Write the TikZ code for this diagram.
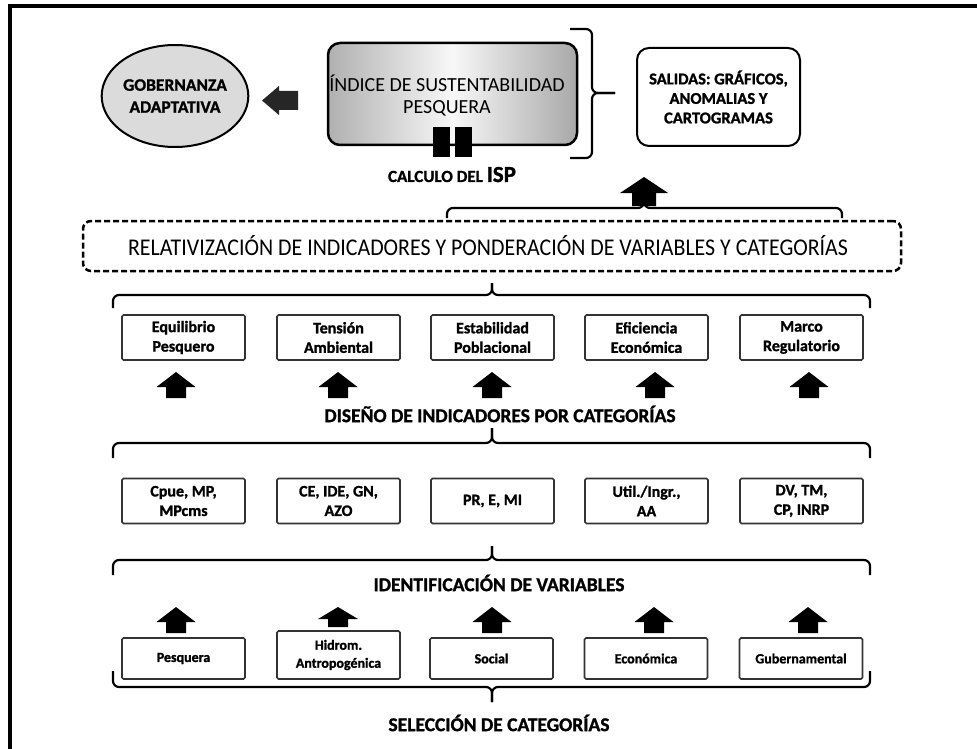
\documentclass[tikz,border=0pt]{standalone}
\usepackage{fontspec}
\setmainfont{Carlito}[BoldFeatures={FakeBold=1.3}]
\usetikzlibrary{shapes.geometric}
\newcommand\myhbrace[6]{%
  \draw[brc] (#1,#5) -- (#1,#4) -- (#3,#4) -- (#3,#6);
  \draw[brc] (#2,#5) -- (#2,#4) -- (#3,#4) -- (#3,#6);}
\tikzset{pics/uparr/.style args={#1/#2/#3/#4}{code={
  \fill[black] (-#1/2,0) -- (0,-#2) -- (#1/2,0) -- (#3/2,0) -- (#3/2,#4) -- (-#3/2,#4) -- (-#3/2,0) -- cycle;}}}
\begin{document}
\begin{tikzpicture}[x=1pt,y=-1pt,
  catbox/.style={draw=black!80, line width=1.6pt, fill=white, rounded corners=1.5pt,
    minimum width=123pt, minimum height=45pt, inner sep=0pt, align=center,
    font=\fontsize{16}{19.5}\selectfont\bfseries},
  selbox/.style={catbox, minimum height=41pt, font=\fontsize{14}{18}\selectfont\bfseries},
  brc/.style={line width=2.2pt, rounded corners=6pt},
  heading/.style={font=\fontsize{19.5}{22}\selectfont\bfseries, inner sep=0pt},
]
\useasboundingbox (0,0) rectangle (977,749);
\fill[white] (0,0) rectangle (977,749);
\draw[line width=4pt] (10,749) -- (10,6) -- (977,6);

% top row
\node[ellipse, draw, line width=2pt, fill=gray!28, minimum width=144pt, minimum height=102pt,
  inner sep=0pt, align=center, font=\fontsize{17.5}{22}\selectfont\bfseries] (gob) at (175,96)
  {GOBERNANZA\\ADAPTATIVA};
\fill[black!85] (262,100.5) -- (279,86) -- (279,91) -- (298,91) -- (298,110) -- (279,110) -- (279,115) -- cycle;

\node[draw, line width=2.5pt, rounded corners=12pt, minimum width=249pt, minimum height=102pt,
  left color=gray!62, right color=gray!68, middle color=gray!6, inner sep=0pt] (isp) at (452.5,94) {};
\node[align=center, font=\fontsize{20}{22}\selectfont, inner sep=0pt] (isptxt) at (447,95)
  {ÍNDICE DE SUSTENTABILIDAD\\PESQUERA};
\node[fill=black, minimum width=17pt, minimum height=30pt, inner sep=0pt] (b1) at (441.5,142) {};
\node[fill=black, minimum width=17pt, minimum height=30pt, inner sep=0pt] (b2) at (463.5,142) {};
\node[anchor=base, inner sep=0pt] (calc) at (452,182)
  {\fontsize{17}{20}\selectfont\bfseries CALCULO DEL \fontsize{23}{28}\selectfont ISP};

\draw[brc] (570,29) -- (592,29) -- (592,93) -- (615,93);
\draw[brc] (570,158) -- (592,158) -- (592,93) -- (615,93);

\node[draw, line width=2pt, rounded corners=12pt, minimum width=163pt, minimum height=98pt,
  align=center, font=\fontsize{16.5}{19.5}\selectfont\bfseries, inner sep=0pt] (sal) at (718.5,97)
  {SALIDAS: GRÁFICOS,\\ANOMALIAS Y\\CARTOGRAMAS};

\pic at (644,193) {uparr=48/16/24/13};
\myhbrace{447}{842}{644}{208}{218}{203}

\node[draw, line width=2.5pt, dash pattern=on 6pt off 3pt, rounded corners=8pt,
  minimum width=818pt, minimum height=50pt, inner sep=0pt] (rel) at (492,246) {};
\node[inner sep=0pt] (reltxt) at (488,246)
  {\fontsize{24}{26}\selectfont\resizebox{720pt}{\height}{RELATIVIZACIÓN DE INDICADORES Y PONDERACIÓN DE VARIABLES Y CATEGORÍAS}};

\myhbrace{113}{870}{492}{295}{308}{283}

% row 1
\node[catbox] (c1) at (183.5,337.5) {Equilibrio\\Pesquero};
\node[catbox] (c2) at (338.5,337.5) {Tensión\\Ambiental};
\node[catbox] (c3) at (492.5,337.5) {Estabilidad\\Poblacional};
\node[catbox] (c4) at (646.5,337.5) {Eficiencia\\Económica};
\node[catbox] (c5) at (801.5,337.5) {Marco\\Regulatorio};
\foreach \x in {176,338,492,655,809} \pic at (\x,387) {uparr=39/15/20/11};

\node[heading] (dis) at (500,414) {DISEÑO DE INDICADORES POR CATEGORÍAS};
\myhbrace{113}{870}{492}{443}{458}{428}

% row 2
\node[catbox] (v1) at (183.5,501) {Cpue, MP,\\MPcms};
\node[catbox] (v2) at (338.5,501) {CE, IDE, GN,\\AZO};
\node[catbox] (v3) at (492.5,501) {PR, E, MI};
\node[catbox] (v4) at (646.5,501) {Util./Ingr.,\\AA};
\node[catbox] (v5) at (801.5,501) {DV, TM,\\CP, INRP};

\myhbrace{113}{870}{492}{560}{575}{546}
\node[heading] (ide) at (499,583) {IDENTIFICACIÓN DE VARIABLES};

% row 3
\foreach \x in {176,492,654,808} \pic at (\x,622) {uparr=39/15/20/11};
\pic at (338,619) {uparr=40/12/20/8};
\node[selbox] (s1) at (183.5,658.5) {Pesquera};
\node[selbox, minimum height=48pt] (s2) at (338.5,655) {Hidrom.\\Antropogénica};
\node[selbox] (s3) at (491.5,658.5) {Social};
\node[selbox] (s4) at (646,658.5) {Económica};
\node[selbox] (s5) at (801,658.5) {Gubernamental};

\myhbrace{113}{870}{492}{687}{671}{702}
\node[heading] (sel) at (499,723) {SELECCIÓN DE CATEGORÍAS};
\end{tikzpicture}
\end{document}
